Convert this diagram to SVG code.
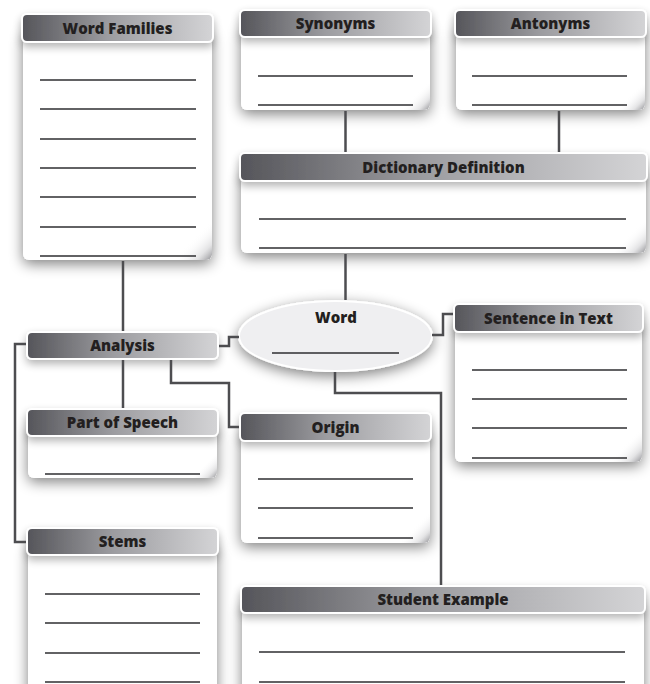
<svg xmlns="http://www.w3.org/2000/svg" width="650" height="684" viewBox="0 0 650 684">
<defs>
  <linearGradient id="hdrGrad" x1="0" y1="0" x2="1" y2="0">
    <stop offset="0" stop-color="#55555a"/>
    <stop offset="0.45" stop-color="#9c9ca0"/>
    <stop offset="1" stop-color="#d4d4d6"/>
  </linearGradient>
  <linearGradient id="curlGrad" x1="0" y1="0" x2="1" y2="1">
    <stop offset="0.5" stop-color="#ffffff" stop-opacity="0"/>
    <stop offset="0.8" stop-color="#d8d8da" stop-opacity="0.7"/>
    <stop offset="1" stop-color="#8e8e92" stop-opacity="1"/>
  </linearGradient>
  <filter id="shadow" x="-20%" y="-30%" width="140%" height="170%">
    <feGaussianBlur in="SourceAlpha" stdDeviation="7"/>
    <feOffset dx="0" dy="4" result="b"/>
    <feComponentTransfer><feFuncA type="linear" slope="0.5"/></feComponentTransfer>
    <feMerge><feMergeNode/><feMergeNode in="SourceGraphic"/></feMerge>
  </filter>
  <filter id="hshadow" x="-10%" y="-40%" width="120%" height="220%">
    <feGaussianBlur in="SourceAlpha" stdDeviation="4"/>
    <feOffset dx="0" dy="4" result="b"/>
    <feComponentTransfer><feFuncA type="linear" slope="0.3"/></feComponentTransfer>
    <feMerge><feMergeNode/><feMergeNode in="SourceGraphic"/></feMerge>
  </filter>
</defs>
<style>
  .body{fill:#ffffff;filter:url(#shadow)}
  .curl{fill:url(#curlGrad)}
  .hdr{fill:url(#hdrGrad);stroke:#ffffff;stroke-width:2;filter:url(#hshadow)}
  .ht{font-family:"Open Sans","Liberation Sans",sans-serif;font-weight:800;font-size:15px;fill:#231f20;text-anchor:middle}
  .ln{stroke:#2e2e30;stroke-width:1.6}
  .cn{fill:none;stroke:#4d4d50;stroke-width:2.5}
  .oval{fill:#efeff1;stroke:#ffffff;stroke-width:2;filter:url(#shadow)}
</style>
<rect x="0" y="0" width="650" height="684" fill="#ffffff"/>

<g id="word-families">
  <rect class="body" x="23" y="30" width="189" height="230" rx="6"/>
  <rect class="curl" x="172" y="220" width="40" height="40" rx="6"/>
  <rect class="hdr" x="22" y="14" width="191" height="28" rx="5"/>
  <text class="ht" x="117.5" y="33.5">Word Families</text>
  <line class="ln" x1="40" y1="80" x2="196" y2="80"/>
  <line class="ln" x1="40" y1="109" x2="196" y2="109"/>
  <line class="ln" x1="40" y1="139" x2="196" y2="139"/>
  <line class="ln" x1="40" y1="168" x2="196" y2="168"/>
  <line class="ln" x1="40" y1="197" x2="196" y2="197"/>
  <line class="ln" x1="40" y1="227" x2="196" y2="227"/>
  <line class="ln" x1="40" y1="256" x2="196" y2="256"/>
</g>

<g id="synonyms">
  <rect class="body" x="241" y="25" width="189" height="85" rx="6"/>
  <rect class="curl" x="400" y="80" width="30" height="30" rx="6"/>
  <rect class="hdr" x="240" y="10" width="191" height="27" rx="5"/>
  <text class="ht" x="335.5" y="29">Synonyms</text>
  <line class="ln" x1="258" y1="76" x2="413" y2="76"/>
  <line class="ln" x1="258" y1="105" x2="413" y2="105"/>
</g>

<g id="antonyms">
  <rect class="body" x="456" y="25" width="189" height="85" rx="6"/>
  <rect class="curl" x="615" y="80" width="30" height="30" rx="6"/>
  <rect class="hdr" x="455" y="10" width="191" height="27" rx="5"/>
  <text class="ht" x="550.5" y="29">Antonyms</text>
  <line class="ln" x1="472" y1="76" x2="627" y2="76"/>
  <line class="ln" x1="472" y1="105" x2="627" y2="105"/>
</g>

<g id="dictionary-definition">
  <rect class="body" x="241" y="168" width="405" height="85" rx="6"/>
  <rect class="curl" x="611" y="218" width="35" height="35" rx="6"/>
  <rect class="hdr" x="240" y="153" width="407" height="28" rx="5"/>
  <text class="ht" x="443.5" y="172.5">Dictionary Definition</text>
  <line class="ln" x1="259" y1="219" x2="626" y2="219"/>
  <line class="ln" x1="259" y1="248" x2="626" y2="248"/>
</g>

<g id="word">
  <ellipse class="oval" cx="335.5" cy="336" rx="96.5" ry="35"/>
  <text class="ht" x="336" y="322.5">Word</text>
  <line class="ln" x1="272" y1="353" x2="399" y2="353"/>
</g>

<g id="sentence-in-text">
  <rect class="body" x="455" y="318" width="187" height="144" rx="6"/>
  <rect class="curl" x="607" y="427" width="35" height="35" rx="6"/>
  <rect class="hdr" x="454" y="304" width="189" height="28" rx="5"/>
  <text class="ht" x="548.5" y="323.5">Sentence in Text</text>
  <line class="ln" x1="472" y1="370" x2="627" y2="370"/>
  <line class="ln" x1="472" y1="399" x2="627" y2="399"/>
  <line class="ln" x1="472" y1="428" x2="627" y2="428"/>
  <line class="ln" x1="472" y1="458" x2="627" y2="458"/>
</g>

<g id="analysis">
  <rect class="hdr" x="27" y="332" width="191" height="27" rx="5"/>
  <text class="ht" x="122.5" y="351">Analysis</text>
</g>

<g id="part-of-speech">
  <rect class="body" x="28" y="423" width="189" height="55" rx="6"/>
  <rect class="curl" x="190" y="451" width="27" height="27" rx="6"/>
  <rect class="hdr" x="27" y="409" width="191" height="27" rx="5"/>
  <text class="ht" x="122.5" y="428">Part of Speech</text>
  <line class="ln" x1="45" y1="474" x2="200" y2="474"/>
</g>

<g id="origin">
  <rect class="body" x="241" y="428" width="189" height="115" rx="6"/>
  <rect class="curl" x="398" y="511" width="32" height="32" rx="6"/>
  <rect class="hdr" x="240" y="413" width="191" height="28" rx="5"/>
  <text class="ht" x="335.5" y="432.5">Origin</text>
  <line class="ln" x1="258" y1="479" x2="413" y2="479"/>
  <line class="ln" x1="258" y1="508" x2="413" y2="508"/>
  <line class="ln" x1="258" y1="538" x2="413" y2="538"/>
</g>

<g id="stems">
  <rect class="body" x="28" y="542" width="189" height="160" rx="6"/>
  <rect class="hdr" x="27" y="528" width="191" height="27" rx="5"/>
  <text class="ht" x="122.5" y="547">Stems</text>
  <line class="ln" x1="45" y1="594" x2="200" y2="594"/>
  <line class="ln" x1="45" y1="623" x2="200" y2="623"/>
  <line class="ln" x1="45" y1="653" x2="200" y2="653"/>
  <line class="ln" x1="45" y1="682" x2="200" y2="682"/>
</g>

<g id="student-example">
  <rect class="body" x="242" y="600" width="402" height="100" rx="6"/>
  <rect class="hdr" x="241" y="586" width="404" height="27" rx="5"/>
  <text class="ht" x="443" y="605">Student Example</text>
  <line class="ln" x1="259" y1="652" x2="625" y2="652"/>
  <line class="ln" x1="259" y1="682" x2="625" y2="682"/>
</g>

<g id="connectors">
  <path class="cn" d="M123,261 V331"/>
  <path class="cn" d="M345.5,111 V152"/>
  <path class="cn" d="M559,111 V152"/>
  <path class="cn" d="M345.5,254 V300"/>
  <path class="cn" d="M239,337 H229 V346 H219"/>
  <path class="cn" d="M432,335 H443 V314 H453"/>
  <path class="cn" d="M335,372 V393 H441 V585"/>
  <path class="cn" d="M26,344 H15 V542 H26"/>
  <path class="cn" d="M123,360 V408"/>
  <path class="cn" d="M171,360 V383 H229 V427 H239"/>
</g>
</svg>
